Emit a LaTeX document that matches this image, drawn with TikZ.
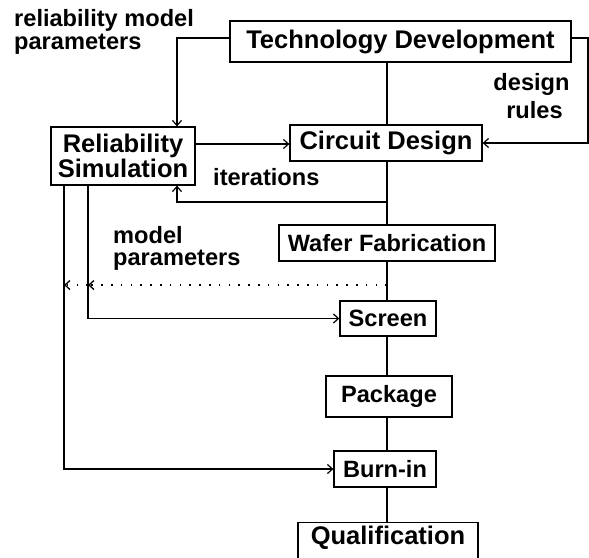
\documentclass[tikz,border=0pt]{standalone}
\usepackage{fontspec}
\setmainfont{Liberation Sans}
\usetikzlibrary{arrows.meta}
\begin{document}
\begin{tikzpicture}[x=1pt,y=-1pt,
  box/.style={draw, line width=1.3pt, inner sep=0pt, align=center, font=\bfseries\fontsize{23.6}{23}\selectfont},
  bigbox/.style={box, font=\bfseries\fontsize{25.5}{23}\selectfont},
  lab/.style={inner sep=0pt, font=\bfseries\fontsize{23.6}{23}\selectfont},
  wire/.style={line width=1.2pt},
  arr/.style={wire, -{Straight Barb[length=5pt,width=9pt]}},
  dotarr/.style={line width=1.3pt, dash pattern=on 1.6pt off 8.2pt, -{Straight Barb[length=5pt,width=9pt]}}]
\fill[white] (0,0) rectangle (589,557);
\clip (0,0) rectangle (589,557);
% boxes
\node[bigbox, minimum width=341, minimum height=41] (td) at (400.5,41.5) {Technology Development};
\node[bigbox, minimum width=144, minimum height=58] (rs) at (123,156) {Reliability\\Simulation};
\node[bigbox, minimum width=192, minimum height=36] (cd) at (386,143) {Circuit Design};
\node[box, minimum width=216, minimum height=36] (wf) at (387,243) {Wafer Fabrication};
\node[box, minimum width=96, minimum height=35] (sc) at (388,318.5) {Screen};
\node[box, minimum width=126, minimum height=41] (pk) at (389,396.5) {Package};
\node[box, minimum width=102, minimum height=36] (bi) at (385,469) {Burn-in};
\node[box, minimum width=180, minimum height=46, anchor=north] (qu) at (388,522) {};
\node[lab, font=\bfseries\fontsize{25.5}{23}\selectfont] (qut) at (388,538) {Qualification};
% labels
\node[lab, anchor=base west] (l1) at (14,26.7) {reliability model};
\node[lab, anchor=base west] (l2) at (14,49.3) {parameters};
\node[lab, anchor=base] (d1) at (531.5,90) {design};
\node[lab, anchor=base] (d2) at (534.5,118.3) {rules};
\node[lab, anchor=base west] (it) at (213,185) {iterations};
\node[lab, anchor=base west] (m1) at (113,243) {model};
\node[lab, anchor=base west] (m2) at (113,265) {parameters};
% helper coordinates
\coordinate (mx) at (387,0);
\coordinate (ax) at (177,0);
\coordinate (rx) at (588,0);
\coordinate (x1) at (64,0);
\coordinate (x2) at (88,0);
\coordinate (itr) at (387,202);
\coordinate (dot) at (387,285);
\coordinate (tdw) at (230,38);
\coordinate (tde) at (571,38);
% main chain
\draw[wire] (td.south -| mx) -- (cd.north -| mx);
\draw[wire] (cd.south -| mx) -- (wf.north -| mx);
\draw[wire] (wf.south -| mx) -- (sc.north -| mx);
\draw[wire] (sc.south -| mx) -- (pk.north -| mx);
\draw[wire] (pk.south -| mx) -- (bi.north -| mx);
\draw[wire] (bi.south -| mx) -- (qu.north -| mx);
% reliability model parameters
\draw[arr] (tdw) -| (rs.north -| ax);
% design rules
\draw[arr] (tde) -| (rx |- 0,143) -- (cd.east |- 0,143);
% rel sim -> circuit design
\draw[arr] (rs.east |- 0,144) -- (cd.west |- 0,144);
% iterations
\draw[arr] (itr) -| (rs.south -| ax);
% dotted model parameters
\draw[dotarr] (dot) -- (dot -| x2);
\draw[dotarr] (dot -| x2) -- (dot -| x1);
% to screen
\draw[arr] (rs.south -| x2) |- (sc.west);
% to burn-in
\draw[arr] (rs.south -| x1) |- (bi.west);
\end{tikzpicture}
\end{document}
